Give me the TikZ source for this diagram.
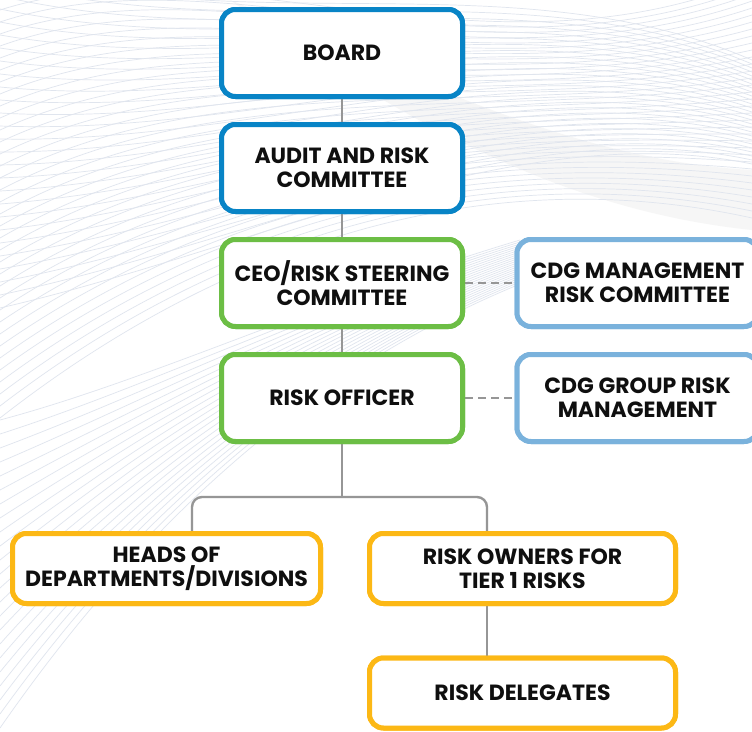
\documentclass[tikz,border=0pt]{standalone}
\usepackage{fontspec}
\setmainfont{Poppins}
\definecolor{dblue}{RGB}{8,132,198}
\definecolor{lblue}{RGB}{122,178,220}
\definecolor{cgreen}{RGB}{108,190,69}
\definecolor{corange}{RGB}{252,184,21}
\definecolor{cgrey}{RGB}{150,150,150}
\definecolor{wave}{RGB}{224,229,238}
\definecolor{txt}{RGB}{15,15,15}
\tikzset{
  box/.style={draw, line width=5pt, rounded corners=14pt, fill=white, align=center,
    text=txt, font=\fontsize{22}{24}\selectfont\bfseries, inner sep=0pt},
  topbox/.style={box, minimum width=241pt, minimum height=87pt},
  lowbox/.style={box, minimum height=70pt},
  conn/.style={draw=cgrey, line width=2.4pt},
  dconn/.style={draw=cgrey, line width=2.4pt, dash pattern=on 8pt off 5pt},
  waveline/.style={draw=wave, line width=0.7pt}
}
\begin{document}
\begin{tikzpicture}[x=1pt,y=-1pt]
\useasboundingbox (0,0) rectangle (752,731);
\fill[white] (0,0) rectangle (752,731);
% background waves
\begin{scope}
\clip (0,0) rectangle (752,731);
\fill[gray!7] (230,0) .. controls (380,60) and (560,160) .. (752,170) -- (752,230) .. controls (560,210) and (400,120) .. (230,0) -- cycle;
\foreach \i in {0,...,34} {
  \draw[waveline] (0,{10+\i*12}) .. controls (220,{-60+\i*9}) and (480,{90+\i*2}) .. (752,{-20+\i*7});
}
\foreach \i in {0,...,26} {
  \draw[waveline] (0,{-30+\i*13}) .. controls (260,{40+\i*8}) and (520,{-40+\i*6}) .. (752,{60+\i*4});
}
\foreach \i in {0,...,22} {
  \draw[waveline] (0,{420+\i*14}) .. controls (150,{380+\i*6}) and (320,{300+\i*3}) .. (520,{240+\i*2});
}
\end{scope}
% coordinates for connectors
\coordinate (split) at (342,497);
\coordinate (hl) at (192,497);
\coordinate (hr) at (487,497);
\coordinate (hlb) at (192,531);
\coordinate (hrb) at (487,531);
\coordinate (ob) at (487,606);
\coordinate (dt) at (487,656);
% nodes
\node[topbox, draw=dblue] (board) at (342,53) {BOARD};
\node[topbox, draw=dblue] (audit) at (342,168) {AUDIT AND RISK\\COMMITTEE};
\node[topbox, draw=cgreen] (ceo) at (342,283) {CEO/RISK STEERING\\COMMITTEE};
\node[topbox, draw=cgreen] (ro) at (342,398) {RISK OFFICER};
\node[topbox, draw=lblue] (cdgm) at (637.5,283) {CDG MANAGEMENT\\RISK COMMITTEE};
\node[topbox, draw=lblue] (cdgg) at (637.5,398) {CDG GROUP RISK\\MANAGEMENT};
\node[lowbox, draw=corange, minimum width=308pt] (heads) at (166.5,568.5) {HEADS OF\\DEPARTMENTS/DIVISIONS};
\node[lowbox, draw=corange, minimum width=306pt] (owners) at (522.5,568.5) {RISK OWNERS FOR\\TIER 1 RISKS};
\node[lowbox, draw=corange, minimum width=306pt] (deleg) at (522.5,693) {RISK DELEGATES};
% connectors
\draw[conn] (board.south) -- (audit.north);
\draw[conn] (audit.south) -- (ceo.north);
\draw[conn] (ceo.south) -- (ro.north);
\draw[dconn] (ceo.east) -- (cdgm.west);
\draw[dconn] (ro.east) -- (cdgg.west);
\draw[conn] (ro.south) -- (split);
\draw[conn, rounded corners=10pt] (hlb) -- (hl) -- (hr) -- (hrb);
\draw[conn] (ob) -- (dt);
% boxes redrawn on top of connector ends
\node[topbox, draw=dblue] at (board) {BOARD};
\node[topbox, draw=dblue] at (audit) {AUDIT AND RISK\\COMMITTEE};
\node[topbox, draw=cgreen] at (ceo) {CEO/RISK STEERING\\COMMITTEE};
\node[topbox, draw=cgreen] at (ro) {RISK OFFICER};
\node[topbox, draw=lblue] at (cdgm) {CDG MANAGEMENT\\RISK COMMITTEE};
\node[topbox, draw=lblue] at (cdgg) {CDG GROUP RISK\\MANAGEMENT};
\node[lowbox, draw=corange, minimum width=308pt] at (heads) {HEADS OF\\DEPARTMENTS/DIVISIONS};
\node[lowbox, draw=corange, minimum width=306pt] at (owners) {RISK OWNERS FOR\\TIER 1 RISKS};
\node[lowbox, draw=corange, minimum width=306pt] at (deleg) {RISK DELEGATES};
\end{tikzpicture}
\end{document}
